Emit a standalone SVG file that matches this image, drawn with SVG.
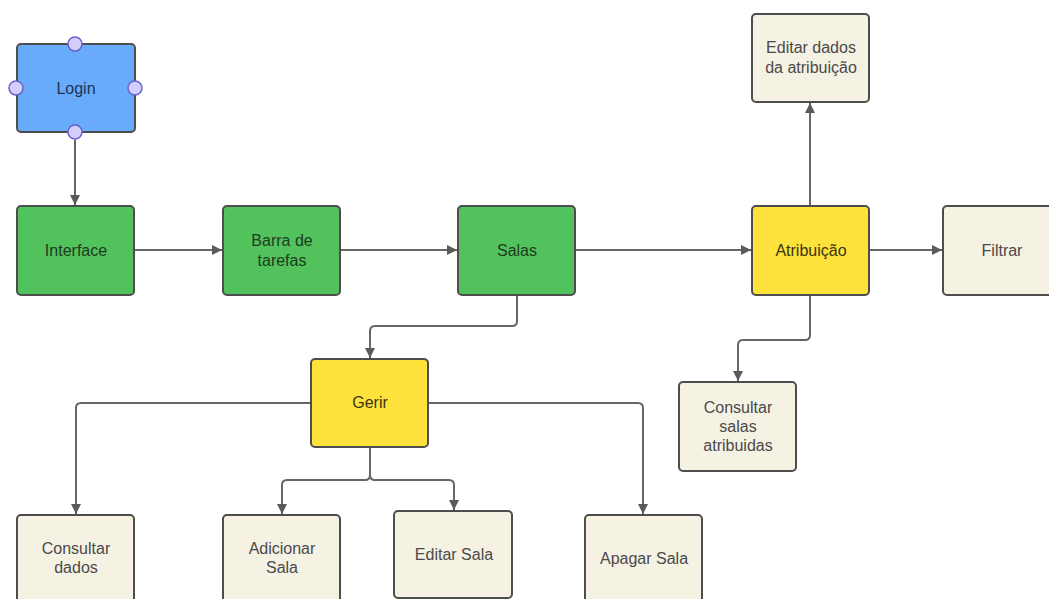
<svg xmlns="http://www.w3.org/2000/svg" width="1049" height="599" viewBox="0 0 1049 599">
<style>
.box{stroke:#4d4d4d;stroke-width:2}
.blue{fill:#68abfb}
.green{fill:#52c25c}
.yellow{fill:#fee23c}
.beige{fill:#f5f1e3}
.t{font-family:"Liberation Sans",Arial,sans-serif;font-size:16px;text-anchor:middle;dominant-baseline:central}
.tb{fill:#1e3450}
.tg{fill:#1f3a22}
.ty{fill:#3b3410}
.tc{fill:#4a4a4a}
.c{fill:none;stroke:#666;stroke-width:2;marker-end:url(#ah)}
.h{fill:#d3cffd;stroke:#6b62c9;stroke-width:1.5}
</style>
<defs>
<marker id="ah" viewBox="0 0 10 10" refX="10" refY="5" markerWidth="11" markerHeight="10" markerUnits="userSpaceOnUse" orient="auto">
<path d="M0,0 L10,5 L0,10 z" fill="#5a5a5a"/>
</marker>
</defs>
<rect width="1049" height="599" fill="#ffffff"/>
<g id="connectors">
<path class="c" d="M75,140 V205"/>
<path class="c" d="M135,250 H222"/>
<path class="c" d="M341,250 H457"/>
<path class="c" d="M576,250 H751"/>
<path class="c" d="M870,250 H942"/>
<path class="c" d="M810,206 V103"/>
<path class="c" d="M810,295 V335 Q810,340 805,340 H743 Q738,340 738,345 V381"/>
<path class="c" d="M517,295 V321 Q517,326 512,326 H375 Q370,326 370,331 V358"/>
<path class="c" d="M311,403 H81 Q76,403 76,408 V514"/>
<path class="c" d="M428,403 H638 Q643,403 643,408 V514"/>
<path class="c" d="M370,447 V475 Q370,480 365,480 H287 Q282,480 282,485 V514"/>
<path class="c" d="M370,475 Q370,480 375,480 H449 Q454,480 454,485 V510"/>
</g>
<g id="login">
<rect class="box blue" x="17" y="44" width="118" height="88" rx="4"/>
<text class="t tb" x="76" y="88">Login</text>
<circle class="h" cx="75" cy="44" r="7"/>
<circle class="h" cx="16" cy="88" r="7"/>
<circle class="h" cx="135" cy="88" r="7"/>
<circle class="h" cx="75" cy="132" r="7"/>
</g>
<g id="interface">
<rect class="box green" x="17" y="206" width="117" height="89" rx="4"/>
<text class="t tg" x="76" y="250">Interface</text>
</g>
<g id="barra">
<rect class="box green" x="223" y="206" width="117" height="89" rx="4"/>
<text class="t tg" x="282" y="240">Barra de</text>
<text class="t tg" x="282" y="260">tarefas</text>
</g>
<g id="salas">
<rect class="box green" x="458" y="206" width="117" height="89" rx="4"/>
<text class="t tg" x="517" y="250">Salas</text>
</g>
<g id="atribuicao">
<rect class="box yellow" x="752" y="206" width="117" height="89" rx="4"/>
<text class="t ty" x="811" y="250">Atribuição</text>
</g>
<g id="filtrar">
<rect class="box beige" x="943" y="206" width="117" height="89" rx="4"/>
<text class="t tc" x="1002" y="250">Filtrar</text>
</g>
<g id="editar-dados">
<rect class="box beige" x="752" y="14" width="117" height="88" rx="4"/>
<text class="t tc" x="811" y="47">Editar dados</text>
<text class="t tc" x="811" y="67">da atribuição</text>
</g>
<g id="consultar-salas">
<rect class="box beige" x="679" y="382" width="117" height="89" rx="4"/>
<text class="t tc" x="738" y="407">Consultar</text>
<text class="t tc" x="738" y="426">salas</text>
<text class="t tc" x="738" y="445">atribuidas</text>
</g>
<g id="gerir">
<rect class="box yellow" x="311" y="359" width="117" height="88" rx="4"/>
<text class="t ty" x="370" y="402">Gerir</text>
</g>
<g id="consultar-dados">
<rect class="box beige" x="17" y="515" width="117" height="89" rx="4"/>
<text class="t tc" x="76" y="548">Consultar</text>
<text class="t tc" x="76" y="567">dados</text>
</g>
<g id="adicionar">
<rect class="box beige" x="223" y="515" width="117" height="89" rx="4"/>
<text class="t tc" x="282" y="548">Adicionar</text>
<text class="t tc" x="282" y="567">Sala</text>
</g>
<g id="editar-sala">
<rect class="box beige" x="394" y="511" width="118" height="87" rx="4"/>
<text class="t tc" x="454" y="554">Editar Sala</text>
</g>
<g id="apagar">
<rect class="box beige" x="585" y="515" width="117" height="89" rx="4"/>
<text class="t tc" x="644" y="558">Apagar Sala</text>
</g>
</svg>
